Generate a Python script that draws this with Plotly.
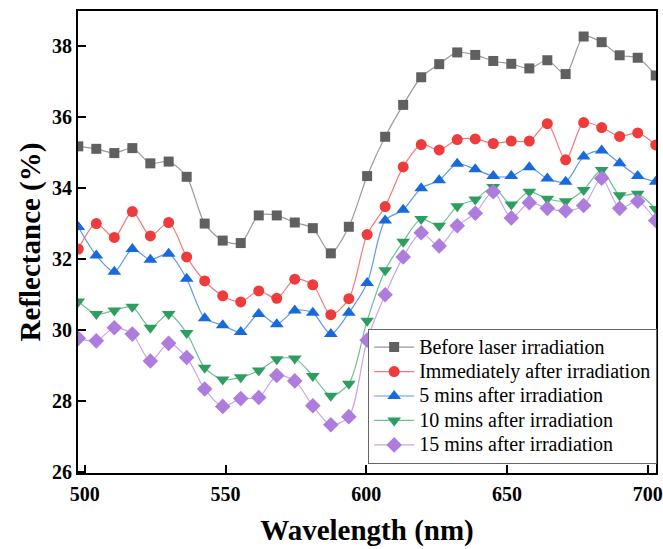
import plotly.graph_objects as go

wavelength = [497.7, 504.1, 510.5, 516.9, 523.3, 529.8, 536.2, 542.6, 549.0, 555.4,
              561.8, 568.2, 574.6, 581.0, 587.4, 593.8, 600.3, 606.7, 613.1, 619.5,
              625.9, 632.3, 638.7, 645.1, 651.5, 657.9, 664.3, 670.8, 677.2, 683.6,
              690.0, 696.4, 702.8]

before = [35.18, 35.11, 34.99, 35.13, 34.70, 34.75, 34.32, 33.00, 32.52, 32.45,
          33.23, 33.23, 33.03, 32.87, 32.16, 32.91, 34.34, 35.45, 36.35, 37.13,
          37.50, 37.83, 37.76, 37.59, 37.51, 37.38, 37.61, 37.22, 38.28, 38.12,
          37.75, 37.68, 37.18]
immediately = [32.28, 33.00, 32.61, 33.34, 32.65, 33.03, 32.06, 31.38, 30.96, 30.79,
               31.10, 30.89, 31.43, 31.27, 30.43, 30.88, 32.69, 33.48, 34.60, 35.23,
               35.08, 35.37, 35.39, 35.26, 35.33, 35.33, 35.82, 34.80, 35.85, 35.71,
               35.46, 35.56, 35.22]
mins5 = [32.90, 32.10, 31.64, 32.28, 31.98, 32.15, 31.44, 30.33, 30.13, 29.94,
         30.45, 30.16, 30.55, 30.48, 29.88, 30.48, 31.32, 33.09, 33.39, 34.00,
         34.22, 34.69, 34.53, 34.34, 34.34, 34.59, 34.27, 34.18, 34.89, 35.06,
         34.70, 34.34, 34.18]
mins10 = [30.80, 30.45, 30.55, 30.65, 30.06, 30.45, 29.91, 28.93, 28.60, 28.66,
          28.85, 29.17, 29.19, 28.70, 28.14, 28.48, 30.26, 31.68, 32.49, 33.13,
          32.94, 33.49, 33.68, 34.03, 33.54, 33.90, 33.70, 33.63, 33.95, 34.51,
          33.80, 33.84, 33.41]
mins15 = [29.76, 29.69, 30.06, 29.88, 29.12, 29.62, 29.22, 28.33, 27.84, 28.06,
          28.09, 28.71, 28.56, 27.86, 27.32, 27.55, 29.71, 30.99, 32.06, 32.74,
          32.37, 32.94, 33.29, 33.90, 33.16, 33.59, 33.43, 33.36, 33.51, 34.28,
          33.43, 33.63, 33.09]

series_names = ["Before laser irradiation", "Immediately after irradiation",
                "5 mins after irradiation", "10 mins after irradiation",
                "15 mins after irradiation"]
series_values = [before, immediately, mins5, mins10, mins15]
marker_colors = ["#606060", "#ee3b3b", "#1769de", "#2e9e60", "#ae7cdc"]
line_colors = ["#9a9a9a", "#f27a7a", "#5e9ae8", "#6cc190", "#c8a5ec"]
symbols = ["square", "circle", "triangle-up", "triangle-down", "diamond"]
sizes = [10, 11, 12, 12, 12]

x_ticks = [500, 550, 600, 650, 700]
y_ticks = [26, 28, 30, 32, 34, 36, 38]

fig = go.Figure()
for name, vals, mc, lc, sym, sz in zip(series_names, series_values, marker_colors,
                                      line_colors, symbols, sizes):
    fig.add_trace(go.Scatter(
        x=wavelength, y=vals,
        name='<span style="font-size:20px">' + name + '</span>',
        mode="lines+markers",
        line=dict(color=lc, width=1.2, shape="spline", smoothing=0.8),
        marker=dict(symbol=sym, size=sz, color=mc, line=dict(width=0)),
        cliponaxis=True,
    ))

serif = "Liberation Serif, Times New Roman, serif"
fig.update_layout(
    width=663, height=549,
    margin=dict(l=78, r=7, t=11, b=76, autoexpand=False),
    paper_bgcolor="white", plot_bgcolor="white",
    font=dict(family=serif, color="black"),
    showlegend=True,
    legend=dict(x=0.502, y=0.312, xanchor="left", yanchor="top",
                bgcolor="white", bordercolor="#666666", borderwidth=1,
                font=dict(family=serif, size=16.5, color="black"),
                itemwidth=40, tracegroupgap=0),
)
fig.update_xaxes(
    range=[497.6, 702.9], tickvals=x_ticks, ticktext=[str(v) for v in x_ticks],
    ticks="inside", ticklen=8, tickwidth=1.5, tickcolor="black",
    showline=True, linewidth=2, linecolor="black", mirror=True,
    showgrid=False, zeroline=False, ticklabelstandoff=2,
    tickfont=dict(family=serif, size=20, color="black", weight="bold"),
    title=dict(text="<b>Wavelength (nm)</b>", font=dict(family=serif, size=29, color="black"),
               standoff=16),
)
fig.update_yaxes(
    range=[25.96, 39.0], tickvals=y_ticks, ticktext=[str(v) for v in y_ticks],
    ticks="inside", ticklen=8, tickwidth=1.5, tickcolor="black",
    showline=True, linewidth=2, linecolor="black", mirror=True,
    showgrid=False, zeroline=False,
    tickfont=dict(family=serif, size=20, color="black", weight="bold"),
    title=dict(text="<b>Reflectance (%)</b>", font=dict(family=serif, size=29, color="black"),
               standoff=3),
)
fig.write_html(
    "out.html",
    config={"displayModeBar": False},
    post_script="document.body.style.margin='0';document.body.style.overflow='hidden';",
)
